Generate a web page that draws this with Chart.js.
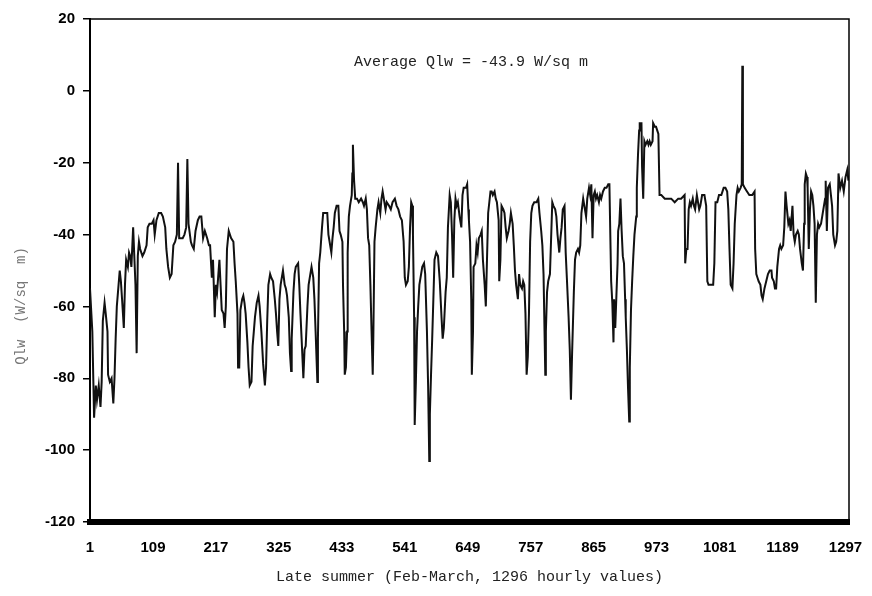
<!DOCTYPE html>
<html lang="en">
<head>
<meta charset="UTF-8">
<title>Qlw - late summer hourly values</title>
<script src="https://cdn.jsdelivr.net/npm/chart.js"></script>
<style>
  body { margin: 0; background: #fff; }
  canvas { display: block; }
</style>
</head>
<body>
<canvas id="qlwChart" width="872" height="596"></canvas>
<script>
// hour index (Feb-March record) and net longwave flux Qlw in W/sq m
const hours = [
  1, 5, 8, 11, 13, 16, 19, 21, 23, 26,
  28, 31, 32, 35, 38, 41, 43, 45, 47, 50,
  52, 54, 56, 59, 61, 63, 66, 68, 70, 72,
  75, 77, 79, 81, 83, 85, 87, 91, 94, 98,
  100, 103, 107, 110, 112, 115, 119, 123, 126, 130,
  132, 135, 138, 141, 144, 147, 150, 152, 154, 157,
  160, 163, 166, 168, 170, 174, 176, 179, 182, 186,
  189, 192, 195, 198, 202, 205, 207, 210, 212, 215,
  217, 219, 223, 225, 227, 230, 232, 234, 236, 239,
  241, 243, 247, 249, 251, 254, 255, 257, 259, 262,
  264, 266, 268, 271, 273, 275, 278, 280, 282, 284,
  287, 290, 292, 295, 298, 301, 303, 305, 307, 310,
  312, 315, 318, 320, 322, 324, 326, 328, 330, 332,
  335, 337, 339, 342, 344, 346, 347, 350, 352, 354,
  358, 360, 362, 364, 367, 369, 371, 374, 376, 378,
  381, 384, 386, 388, 391, 392, 394, 396, 399, 401,
  404, 408, 410, 412, 415, 417, 419, 421, 424, 427,
  429, 431, 434, 435, 437, 438, 440, 442, 443, 445,
  447, 450, 451, 452, 454, 456, 459, 462, 466, 469,
  471, 474, 476, 478, 480, 482, 484, 486, 487, 489,
  491, 494, 496, 499, 501, 503, 506, 508, 510, 514,
  517, 520, 524, 527, 530, 533, 536, 539, 541, 543,
  546, 548, 550, 552, 554, 555, 557, 558, 560, 562,
  564, 566, 568, 571, 574, 576, 579, 581, 583, 584,
  586, 588, 590, 592, 595, 598, 601, 604, 606, 608,
  611, 613, 615, 618, 620, 622, 624, 626, 628, 630,
  632, 635, 638, 640, 642, 646, 648, 650, 651, 653,
  655, 656, 658, 659, 662, 664, 666, 668, 671, 673,
  675, 678, 680, 682, 684, 686, 688, 690, 692, 695,
  697, 699, 702, 703, 705, 707, 710, 712, 714, 716,
  719, 721, 723, 726, 728, 730, 732, 735, 737, 739,
  742, 744, 746, 748, 750, 752, 754, 756, 758, 760,
  763, 767, 770, 772, 775, 777, 779, 782, 783, 785,
  787, 790, 792, 794, 796, 799, 801, 803, 806, 808,
  810, 812, 815, 817, 819, 822, 824, 826, 828, 831,
  833, 835, 838, 840, 842, 844, 847, 850, 852, 854,
  857, 859, 861, 863, 865, 867, 869, 871, 874, 876,
  878, 881, 884, 887, 890, 892, 894, 895, 897, 899,
  900, 902, 904, 906, 907, 909, 911, 913, 915, 917,
  919, 920, 922, 924, 926, 927, 929, 931, 933, 935,
  938, 939, 941, 943, 944, 947, 948, 950, 952, 954,
  957, 959, 961, 963, 966, 967, 970, 972, 974, 976,
  978, 981, 987, 992, 998, 1004, 1010, 1015, 1021, 1022,
  1024, 1026, 1028, 1030, 1032, 1035, 1037, 1039, 1042, 1044,
  1046, 1048, 1051, 1053, 1055, 1058, 1060, 1062, 1064, 1070,
  1072, 1074, 1077, 1080, 1084, 1088, 1091, 1094, 1096, 1098,
  1100, 1103, 1105, 1107, 1110, 1112, 1114, 1117, 1119, 1120,
  1121, 1124, 1128, 1132, 1137, 1141, 1142, 1144, 1146, 1148,
  1151, 1153, 1155, 1158, 1161, 1164, 1167, 1170, 1171, 1174,
  1176, 1178, 1180, 1183, 1185, 1187, 1190, 1192, 1194, 1196,
  1199, 1201, 1203, 1206, 1208, 1210, 1212, 1215, 1217, 1219,
  1222, 1224, 1226, 1227, 1229, 1231, 1232, 1234, 1236, 1238,
  1240, 1242, 1244, 1246, 1248, 1250, 1252, 1255, 1257, 1259,
  1262, 1263, 1265, 1267, 1270, 1272, 1274, 1276, 1279, 1281,
  1283, 1285, 1288, 1291, 1294, 1297, 1300, 1302
];
const qlw = [
  -55, -67, -91, -82, -86, -82, -88, -81, -64, -59,
  -62, -67, -79, -81, -80, -87, -80, -69, -60, -54,
  -50, -53, -58, -66, -54, -47, -49, -45, -46, -49,
  -38, -46, -54, -73, -46, -42, -44, -46, -45, -43,
  -38, -37, -37, -36, -40, -36, -34, -34, -35, -38,
  -44, -49, -52, -51, -43, -42, -40, -20, -41, -41,
  -41, -40, -38, -19, -37, -42, -43, -44, -39, -36,
  -35, -35, -41, -39, -41, -43, -43, -52, -47, -63,
  -54, -56, -47, -54, -61, -62, -66, -60, -44, -39,
  -40, -41, -42, -48, -53, -62, -77, -77, -61, -58,
  -57, -59, -62, -70, -77, -82, -81, -71, -67, -63,
  -59, -57, -60, -67, -76, -82, -77, -64, -54, -51,
  -52, -53, -58, -62, -67, -71, -58, -54, -52, -50,
  -54, -55, -57, -63, -73, -78, -69, -56, -51, -49,
  -48, -54, -62, -69, -80, -72, -71, -60, -54, -52,
  -49, -52, -58, -67, -81, -69, -48, -45, -38, -34,
  -34, -34, -40, -42, -45, -41, -38, -34, -32, -32,
  -39, -40, -42, -54, -67, -79, -77, -67, -45, -35,
  -32, -29, -23, -15, -25, -30, -30, -31, -30, -31,
  -32, -30, -33, -41, -43, -54, -67, -79, -69, -42,
  -38, -33, -31, -34, -30, -28, -31, -33, -31, -32,
  -33, -31, -30, -32, -33, -35, -36, -42, -52, -54,
  -53, -49, -38, -31, -32, -40, -63, -93, -81, -67,
  -60, -54, -52, -49, -48, -51, -67, -82, -103, -90,
  -79, -69, -58, -47, -45, -46, -53, -63, -69, -66,
  -56, -52, -38, -29, -31, -40, -52, -36, -30, -32,
  -31, -35, -38, -29, -27, -27, -26, -33, -36, -42,
  -58, -79, -67, -49, -48, -43, -45, -41, -40, -39,
  -47, -54, -60, -47, -34, -31, -28, -28, -29, -28,
  -30, -31, -36, -53, -47, -32, -33, -34, -38, -41,
  -39, -37, -34, -37, -43, -50, -54, -58, -51, -54,
  -55, -53, -54, -62, -79, -74, -62, -42, -34, -32,
  -31, -31, -30, -34, -39, -43, -51, -79, -67, -56,
  -53, -51, -41, -31, -32, -33, -35, -40, -45, -41,
  -38, -33, -32, -45, -52, -63, -72, -86, -73, -56,
  -47, -45, -44, -45, -43, -34, -30, -33, -35, -30,
  -27, -29, -26, -41, -29, -28, -30, -29, -31, -29,
  -30, -28, -27, -27, -26, -26, -44, -53, -59, -70,
  -58, -66, -57, -48, -39, -37, -30, -39, -46, -48,
  -58, -63, -72, -83, -92, -77, -61, -53, -46, -40,
  -35, -27, -18, -11, -9, -9, -21, -30, -14, -15,
  -14, -15, -14, -15, -14, -9, -10, -10, -11, -12,
  -29, -29, -30, -30, -30, -31, -30, -30, -29, -48,
  -44, -44, -33, -31, -32, -30, -32, -33, -29, -31,
  -33, -32, -29, -29, -29, -32, -53, -54, -54, -54,
  -48, -31, -31, -29, -29, -27, -27, -28, -33, -44,
  -54, -55, -48, -37, -29, -27, -28, -27, -26, 7,
  -26, -27, -28, -29, -29, -28, -44, -51, -52, -53,
  -54, -57, -58, -55, -53, -51, -50, -50, -52, -53,
  -55, -55, -49, -44, -43, -44, -43, -38, -28, -32,
  -37, -36, -39, -32, -40, -42, -40, -39, -40, -44,
  -48, -50, -37, -26, -23, -24, -27, -44, -33, -28,
  -29, -32, -37, -59, -40, -37, -38, -37, -35, -33,
  -30, -25, -39, -27, -26, -29, -32, -40, -43, -42,
  -39, -23, -27, -25, -28, -24, -22, -25
];
const xTickValues = [1, 109, 217, 325, 433, 541, 649, 757, 865, 973, 1081, 1189, 1297];
const yTickValues = [20, 0, -20, -40, -60, -80, -100, -120];
const averageQlw = -43.9;

const monoFont = '"Liberation Mono", "DejaVu Sans Mono", monospace';
const tickFont = '"Liberation Sans Narrow", "Liberation Sans", Arial, sans-serif';

// top/right frame, the average note and the rotated y label
const notes = {
  id: 'notes',
  afterDraw(chart) {
    const {ctx, chartArea: a} = chart;
    ctx.save();
    ctx.strokeStyle = '#000';
    ctx.lineWidth = 1.5;
    ctx.beginPath();
    ctx.moveTo(a.left, a.top);
    ctx.lineTo(a.right, a.top);
    ctx.lineTo(a.right, a.bottom);
    ctx.stroke();

    ctx.fillStyle = '#222';
    ctx.font = '15px ' + monoFont;
    ctx.textBaseline = 'middle';
    ctx.fillText('Average Qlw = ' + averageQlw.toFixed(1) + ' W/sq m', a.left + 264, a.top + 43);

    ctx.translate(21, 306);
    ctx.rotate(-Math.PI / 2);
    ctx.textAlign = 'center';
    ctx.fillStyle = '#777';
    ctx.font = '14px ' + monoFont;
    ctx.fillText('Qlw  (W/sq  m)', 0, 0);
    ctx.restore();
  }
};

new Chart(document.getElementById('qlwChart'), {
  type: 'line',
  data: {
    datasets: [{
      data: hours.map((h, i) => ({x: h, y: qlw[i]})),
      borderColor: '#111',
      borderWidth: 2,
      pointRadius: 0,
      tension: 0
    }]
  },
  options: {
    responsive: false,
    animation: false,
    devicePixelRatio: 1,
    layout: {padding: {top: 19, right: 23, left: 0, bottom: 0}},
    plugins: {legend: {display: false}, tooltip: {enabled: false}},
    scales: {
      x: {
        type: 'linear',
        min: 1,
        max: 1303,
        afterBuildTicks: s => { s.ticks = xTickValues.map(v => ({value: v})); },
        // fixed axis height; end labels may overhang the plot edges
        afterFit: s => { s.height = 74; s.paddingLeft = 0; s.paddingRight = 0; },
        grid: {display: false, drawTicks: false},
        border: {display: true, color: '#000', width: 6},
        ticks: {
          color: '#000',
          padding: 17,
          maxRotation: 0,
          autoSkip: false,
          callback: v => String(v),
          font: {family: tickFont, size: 15, weight: 'bold'}
        },
        title: {
          display: true,
          text: 'Late summer (Feb-March, 1296 hourly values)',
          color: '#222',
          font: {family: monoFont, size: 15},
          padding: {top: 0, bottom: 10}
        }
      },
      y: {
        min: -120,
        max: 20,
        afterBuildTicks: s => { s.ticks = yTickValues.map(v => ({value: v})); },
        afterFit: s => { s.width = 90; },
        grid: {display: true, drawOnChartArea: false, drawTicks: true, tickLength: 7, color: '#000', lineWidth: 1.5},
        border: {display: true, color: '#000', width: 2},
        ticks: {
          color: '#000',
          padding: 8,
          callback: v => String(v),
          font: {family: tickFont, size: 15, weight: 'bold'}
        }
      }
    }
  },
  plugins: [notes]
});
</script>
</body>
</html>
